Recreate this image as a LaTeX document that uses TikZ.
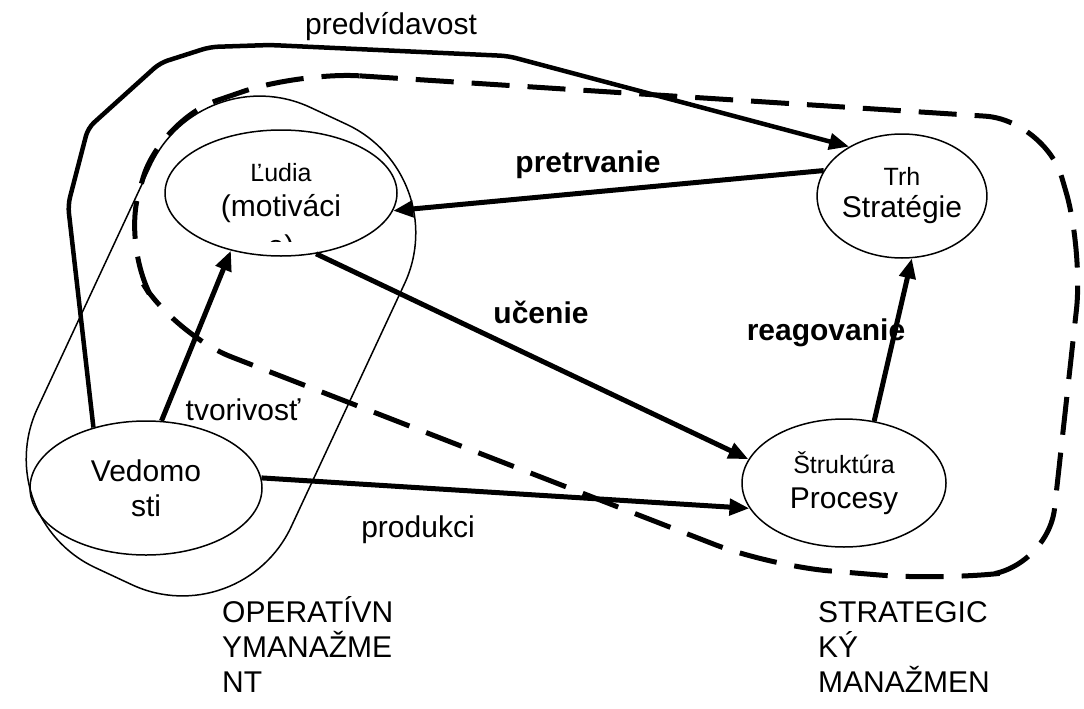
\documentclass[tikz,border=0pt]{standalone}
\usepackage{fontspec}
\setmainfont{Liberation Sans}
\usetikzlibrary{arrows.meta,shapes.geometric}

\tikzset{
  blob/.style={draw, ellipse, line width=1.5pt, inner sep=0pt, align=center, font=\fontsize{30}{35}\selectfont},
  link/.style={line width=5pt, -{Triangle[length=20pt,width=16pt]}},
  lab/.style={anchor=base, inner sep=0pt, font=\fontsize{30}{35}\selectfont},
  blab/.style={lab, font=\fontsize{30}{35}\selectfont\bfseries},
  block/.style={anchor=south west, inner sep=0pt, align=left, font=\fontsize{30}{35}\selectfont},
}
\newcommand{\smalltxt}[1]{{\fontsize{25}{30}\selectfont #1}}

\begin{document}
\begin{tikzpicture}[x=1pt, y=-1pt]
  \useasboundingbox (0,0) rectangle (1084,709);

  \node[blob, minimum width=232pt, minimum height=126pt] (ludia) at (281,193) {\smalltxt{Ľudia}\\(motiváci};
  \node[blob, minimum width=168pt, minimum height=124pt] (trh) at (902,196) {\smalltxt{Trh}\\[-3pt]Stratégie};
  \node[blob, minimum width=232pt, minimum height=134pt] (ved) at (146,488) {Vedomo\\sti};
  \node[blob, minimum width=204pt, minimum height=128pt] (proc) at (844,483) {\smalltxt{Štruktúra}\\Procesy};
  \begin{scope}
    \clip (220,225) rectangle (340,241);
    \node[lab] (ludiaend) at (281,256) {e)};
  \end{scope}

  \draw[line width=1.5pt, rotate around={65:(221,346)}, rounded corners=120pt]
    (-33,206) rectangle (475,486);

  \draw[line width=5pt, dash pattern=on 38pt off 18pt, rounded corners=60pt]
    (300,72) -- (1045,120) -- (1083,250) -- (1048,568) -- (940,580) -- (770,566)
    -- (175,335) -- (122,250) -- (160,120) -- cycle;

  \draw[link, line width=4.5pt, rounded corners=8pt] (ved.131) -- (68,205) -- (88,128) -- (160,63)
    -- (210,47) -- (270,45) -- (508,56) -- (trh.137);
  \draw[link] (trh.162) -- (ludia.-9);
  \draw[link] (ludia.-60) -- (proc.166);
  \draw[link] (ved.5) -- (proc.195);
  \draw[link] (proc.64) -- (trh.-81);
  \draw[link] (ved.77) -- (ludia.-131);

  \node[lab] (lpred) at (391,35) {predvídavost};
  \node[blab] (lpret) at (588,172) {pretrvanie};
  \node[blab] (lucen) at (541,323) {učenie};
  \node[blab] (lreag) at (826,340) {reagovanie};
  \node[lab] (ltvor) at (243,420) {tvorivosť};
  \node[lab] (lprod) at (418,537) {produkci};
  \node[block] (lop) at (222,693) {OPERATÍVN\\YMANAŽME\\NT};
  \node[block] (lstr) at (818,693) {STRATEGIC\\KÝ\\MANAŽMEN};
\end{tikzpicture}
\end{document}
